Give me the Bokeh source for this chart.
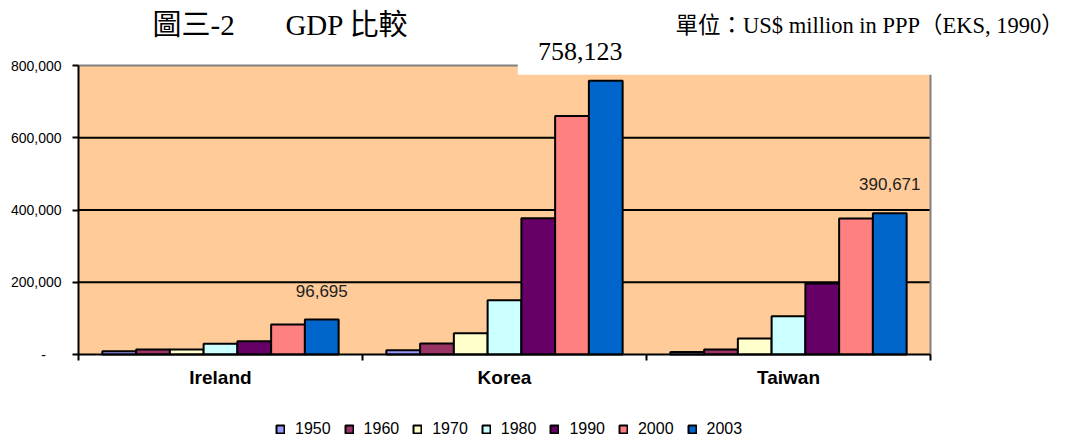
from bokeh.plotting import figure
from bokeh.models import (ColumnDataSource, Range1d, FixedTicker, Label, BoxAnnotation,
                          Legend, LegendItem)
from bokeh.embed import file_html
from bokeh.resources import INLINE

# ---- data ----
countries = ["Ireland", "Korea", "Taiwan"]
years = ["1950", "1960", "1970", "1980", "1990", "2000", "2003"]
ireland = [9000, 14000, 13500, 29500, 37000, 83000, 96695]
korea = [12000, 30500, 59000, 150000, 377000, 660000, 758123]
taiwan = [7000, 14000, 44500, 106000, 196500, 376500, 390671]
colors = ["#9999FF", "#993366", "#FFFFCC", "#CCFFFF", "#660066", "#FF8080", "#0066CC"]
y_ticks = [0, 200000, 400000, 600000, 800000]
y_tick_labels = ["-\u00a0\u00a0\u00a0\u00a0", "200,000", "400,000", "600,000", "800,000"]
title_text = "圖三-2\u3000\u00a0\u00a0\u00a0GDP 比較"
unit_text = "單位：US$ million in PPP（EKS, 1990）"

series = [ireland, korea, taiwan]
n_years = len(years)
ncat = len(countries)
ymax = y_ticks[-1]

# ---- layout (pixels on the canvas) ----
W, H = 1081, 438
PL, PR, PT, PB = 78, 930, 65, 354
xpp = ncat / (PR - PL)
ypp = ymax / (PB - PT)
BASE_FIX = 9  # label baseline correction (px)

group_frac = 0.832
bw = group_frac / n_years

SANS = "Liberation Sans"
SERIF = "'Liberation Serif', 'Noto Sans CJK TC'"

p = figure(frame_width=W, frame_height=H, min_border=0, output_backend="svg",
           toolbar_location=None,
           x_range=Range1d(-PL * xpp, ncat + (W - PR) * xpp),
           y_range=Range1d(-(H - PB) * ypp, ymax + PT * ypp))
p.background_fill_color = "white"
p.border_fill_color = "white"
p.outline_line_color = None
p.grid.visible = False

# plot area background
p.add_layout(BoxAnnotation(left=0, right=ncat, bottom=0, top=ymax, fill_color="#FFCC99",
                           fill_alpha=1, line_color=None, level="underlay"))

# horizontal grid lines
grid_y = [t for t in y_ticks if 0 < t < ymax]
p.segment(x0=[0] * len(grid_y), x1=[ncat] * len(grid_y), y0=grid_y, y1=grid_y,
          line_color="black", line_width=2)
# gray top / right border of the plot area
p.segment(x0=[0, ncat], x1=[ncat, ncat], y0=[ymax, 0], y1=[ymax, ymax],
          line_color="#808080", line_width=2)

# bars
legend_items = []
for si, yr in enumerate(years):
    xs = [ci + 0.5 + (si - (n_years - 1) / 2) * bw for ci in range(ncat)]
    tops = [s[si] for s in series]
    src = ColumnDataSource(dict(x=xs, top=tops))
    r = p.vbar(x="x", top="top", width=bw, bottom=0, source=src,
               fill_color=colors[si], line_color="black", line_width=2)
    legend_items.append(LegendItem(label=yr, renderers=[r]))

# y axis
ya = p.yaxis[0]
ya.fixed_location = 0
ya.bounds = (0, ymax)
ya.ticker = FixedTicker(ticks=y_ticks)
ya.major_label_overrides = {t: l for t, l in zip(y_ticks, y_tick_labels)}
ya.axis_line_color = "black"
ya.axis_line_width = 2
ya.major_tick_line_color = "black"
ya.major_tick_line_width = 2
ya.major_tick_in = 0
ya.major_tick_out = 6
ya.minor_tick_line_color = None
ya.major_label_standoff = 11
ya.major_label_text_font = SANS
ya.major_label_text_font_size = "14px"
ya.major_label_text_color = "black"

# x axis
xa = p.xaxis[0]
xa.fixed_location = 0
xa.bounds = (0, ncat)
xa.ticker = FixedTicker(ticks=[i + 0.5 for i in range(ncat)],
                        minor_ticks=list(range(ncat + 1)))
xa.major_label_overrides = {i + 0.5: c for i, c in enumerate(countries)}
xa.axis_line_color = "black"
xa.axis_line_width = 2
xa.major_tick_line_color = None
xa.major_tick_in = 0
xa.major_tick_out = 0
xa.minor_tick_line_color = "black"
xa.minor_tick_line_width = 2
xa.minor_tick_in = 0
xa.minor_tick_out = 6
xa.major_label_standoff = 6
xa.major_label_text_font = SANS
xa.major_label_text_font_style = "bold"
xa.major_label_text_font_size = "19px"
xa.major_label_text_color = "black"

# white text box overlapping the top of the chart
p.add_layout(BoxAnnotation(left=(517.3 - PL) * xpp, right=ncat + 3 * xpp,
                           bottom=ymax - (74.3 - PT) * ypp, top=ymax + PT * ypp,
                           fill_color="white", fill_alpha=1, line_color=None))

# data labels
last = n_years - 1
def x_last(ci):
    return ci + 0.5 + (last - (n_years - 1) / 2) * bw

for ci, s in [(0, ireland), (2, taiwan)]:
    p.add_layout(Label(x=x_last(ci), y=s[last], text=f"{s[last]:,}", text_align="center",
                       text_baseline="alphabetic", y_offset=20 + BASE_FIX, text_font=SANS,
                       text_font_size="17px", text_color="#222222"))
p.add_layout(Label(x=x_last(1), y=korea[last], text=f"{korea[last]:,}", text_align="center",
                   text_baseline="alphabetic", x_offset=-25.5, y_offset=19.5 + BASE_FIX + 1,
                   text_font=SERIF, text_font_size="26px", text_color="black"))

# title and unit text
p.add_layout(Label(x=152, y=H - 33.5 + BASE_FIX, x_units="screen", y_units="screen",
                   text=title_text, text_align="left", text_baseline="alphabetic",
                   text_font=SERIF, text_font_size="29px", text_color="black"))
p.add_layout(Label(x=675, y=H - 33.5 + BASE_FIX, x_units="screen", y_units="screen",
                   text=unit_text, text_align="left", text_baseline="alphabetic",
                   text_font=SERIF, text_font_size="22.5px", text_color="black"))

# legend
legend = Legend(items=legend_items, orientation="horizontal", location=(275, 0),
                glyph_width=10, glyph_height=10, label_standoff=10, spacing=13,
                padding=0, margin=0, border_line_color=None, background_fill_alpha=0,
                label_text_font=SANS, label_text_font_size="16px", label_text_color="black")
p.add_layout(legend)

open("out.html", "w").write(file_html(p, INLINE))
